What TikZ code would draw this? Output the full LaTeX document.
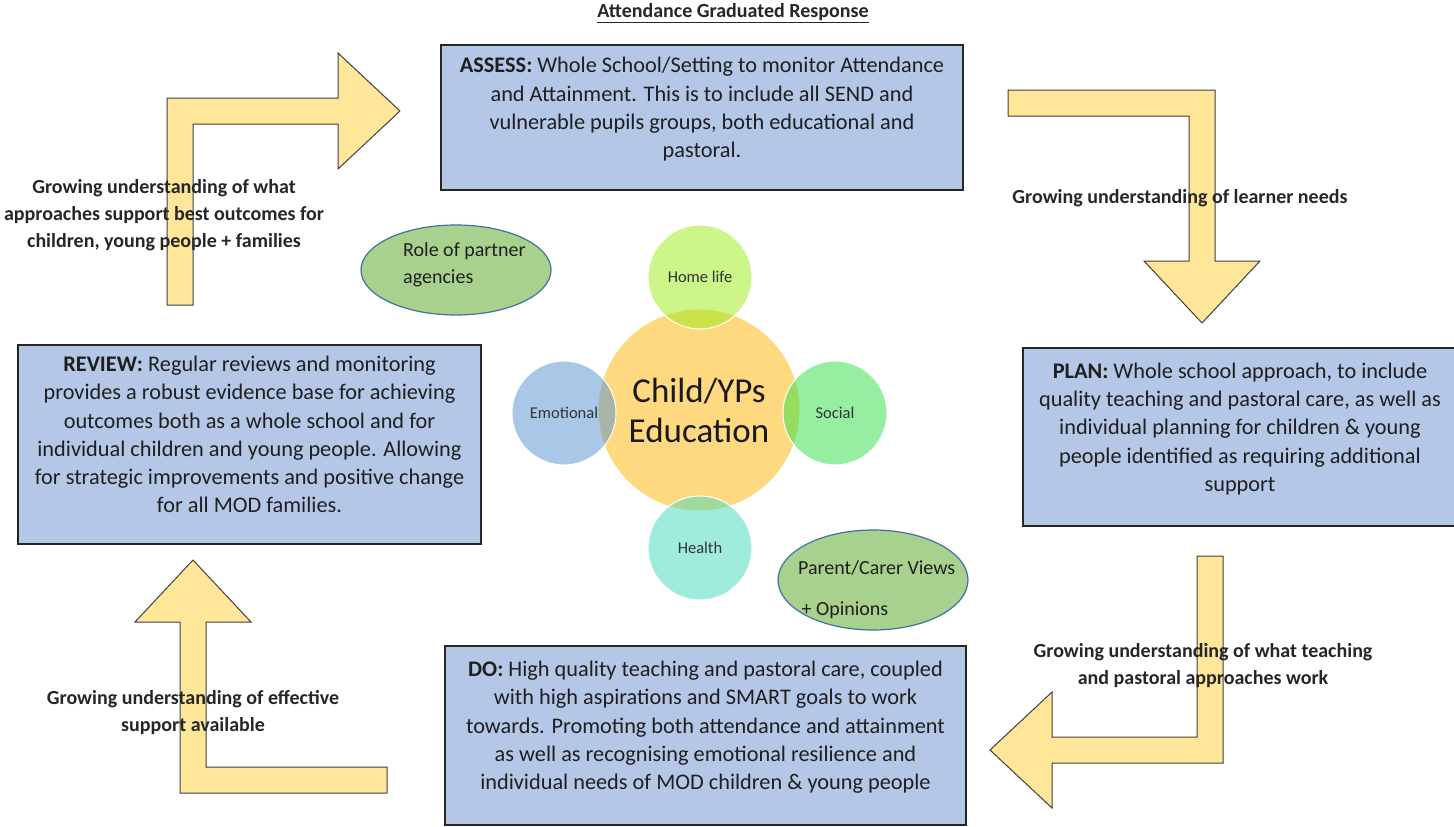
\documentclass[tikz,border=0pt]{standalone}
\usepackage{xcolor}
\usepackage{tikz}
\usepackage{fontspec}
\setmainfont{Carlito}
\usetikzlibrary{shapes.geometric}
\definecolor{stageblue}{HTML}{B4C7E7}
\definecolor{arrowgold}{HTML}{FFE699}
\definecolor{viewgreen}{HTML}{A9D18E}
\definecolor{viewedge}{HTML}{41719C}
\definecolor{hubgold}{RGB}{255,179,0}
\definecolor{homelime}{RGB}{153,235,21}
\definecolor{moodblue}{RGB}{83,145,209}
\definecolor{socialgreen}{RGB}{45,223,65}
\definecolor{healthteal}{RGB}{65,217,185}
\newcommand*{\stagetextstyle}{\fontsize{22.3}{28.3}\selectfont\color{black!88}}
\newcommand*{\viewtextstyle}{\fontsize{20}{27}\selectfont\color{black!88}}
\newcommand*{\growtextstyle}{\fontsize{20}{27}\selectfont\bfseries\color{black!85}}
\newcommand{\elbowarrow}[3]{%
% outer corner x, outer corner y, rotation
  \pgfmathsetmacro{\acornx}{#1}
  \pgfmathsetmacro{\acorny}{#2}
  \pgfmathsetmacro{\aturn}{#3}
  \filldraw[arrowgold, draw = black!75, line width = 1pt,
       shift = {(\acornx,\acorny)}, rotate = \aturn]
       (0,207) -- (0,0) -- (171,0) -- (171,-45) -- (233,13)
       -- (171,71) -- (171,26) -- (26,26) -- (26,207) -- cycle;
}
\tikzset{
  stagebox/.style = {draw = black!85, line width = 1.2pt, fill = stageblue,
    align = center, font = \stagetextstyle, inner sep = 0pt, text depth = 20pt},
  growlabel/.style = {align = center, font = \growtextstyle},
  facet/.style = {circle, draw = white, line width = 1pt, fill opacity = 0.5,
    text opacity = 1, inner sep = 0pt, minimum size = 104pt,
    font = \fontsize{16.5}{18}\selectfont\color{black!80}},
  viewbubble/.style = {ellipse, draw = viewedge, line width = 1.2pt,
    fill = viewgreen, inner sep = 0pt},
  viewtext/.style = {anchor = west, align = left, font = \viewtextstyle,
    inner sep = 0pt}
}

\begin{document}
\begin{tikzpicture}[x = 1pt, y = -1pt]
    \useasboundingbox (0,0) rectangle (1454,827);
      \elbowarrow{167}{98}{0}
      \elbowarrow{1215}{90}{-90}
      \elbowarrow{1223}{763}{180}
      \elbowarrow{180}{793}{90}
    \node[stagebox, minimum width = 522pt, minimum height = 145pt] (assess)
      at (702,117.5) {\textbf{ASSESS:} Whole School/Setting to monitor Attendance\\
        and Attainment. This is to include all SEND and\\
        vulnerable pupils groups, both educational and\\pastoral.};
    \node[stagebox, minimum width = 463pt, minimum height = 199pt] (review)
      at (249.5,444.5) {\textbf{REVIEW:} Regular reviews and monitoring\\
        provides a robust evidence base for achieving\\
        outcomes both as a whole school and for\\
        individual children and young people. Allowing\\
        for strategic improvements and positive change\\for all MOD families.};
    \node[stagebox, minimum width = 434pt, minimum height = 178pt] (plan)
      at (1240,437) {\textbf{PLAN:} Whole school approach, to include\\
        quality teaching and pastoral care, as well as\\
        individual planning for children \& young\\
        people identified as requiring additional\\support};
    \node[stagebox, minimum width = 521pt, minimum height = 179pt] (do)
      at (705.5,735.5) {\textbf{DO:} High quality teaching and pastoral care, coupled\\
        with high aspirations and SMART goals to work\\
        towards. Promoting both attendance and attainment\\
        as well as recognising emotional resilience and\\
        individual needs of MOD children \& young people};
    \node[growlabel] (learn) at (164,215) {Growing understanding of what\\
      approaches support best outcomes for\\children, young people + families};
    \node[growlabel] (needs) at (1180,198) {Growing understanding of learner needs};
    \node[growlabel] (works) at (1203,666) {Growing understanding of what teaching\\
      and pastoral approaches work};
    \node[growlabel] (support) at (193,713) {Growing understanding of effective\\
      support available};
    \node[facet, fill = hubgold, minimum size = 202pt,
      font = \fontsize{35}{40}\selectfont\color{black!90}, align = center]
      (child) at (699,410) {Child/YPs\\Education};
    \node[facet, fill = homelime] (home) at (700,277) {Home life};
    \node[facet, fill = moodblue] (emotion) at (564,413) {Emotional};
    \node[facet, fill = socialgreen] (social) at (835,413) {Social};
    \node[facet, fill = healthteal] (health) at (700,548) {Health};
    \node[viewbubble, minimum width = 190pt, minimum height = 90pt] (partner)
      at (456,270) {};
    \node[viewtext] (partner text) at (403,264.5) {Role of partner\\agencies};
    \node[viewbubble, minimum width = 190pt, minimum height = 100pt] (parent)
      at (873,580) {};
    \node[viewtext] (parent text) at (798,589.5)
      {Parent/Carer Views\\[14pt]\,+ Opinions};
    \node[font = \fontsize{20}{24}\selectfont\bfseries\color{black!85}] (title)
      at (733,13) {\underline{Attendance Graduated Response}};
  \end{tikzpicture}
\end{document}
